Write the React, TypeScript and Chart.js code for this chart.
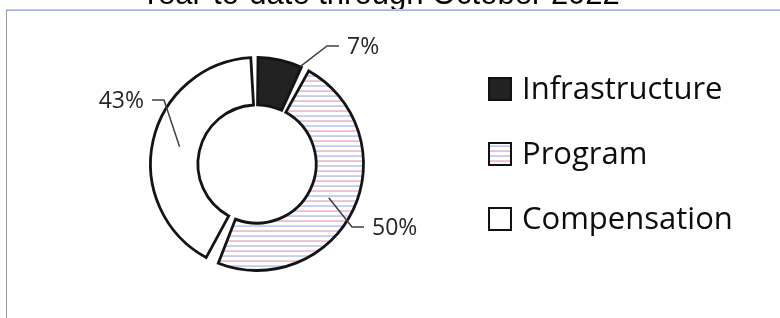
import React, { useEffect, useRef } from 'react';
import { Chart, registerables } from 'chart.js';

Chart.register(...registerables);

const TITLE = 'Year-to-date through October 2022';
const CATEGORIES = ['Infrastructure', 'Program', 'Compensation'];
const SHARES = [7, 50, 43];
const PERCENT_LABELS = ['7%', '50%', '43%'];

function makeHatch(): CanvasPattern | string {
  const c = document.createElement('canvas');
  c.width = 4;
  c.height = 5;
  const g = c.getContext('2d');
  if (!g) return '#e0e4f4';
  g.fillStyle = '#ffffff';
  g.fillRect(0, 0, 4, 5);
  g.fillStyle = '#efcad6';
  g.fillRect(0, 0, 4, 1);
  g.fillStyle = '#c3cdf1';
  g.fillRect(0, 1, 4, 1);
  const p = g.createPattern(c, 'repeat');
  return p || '#e0e4f4';
}

const decorPlugin = {
  id: 'decor',
  beforeDraw(chart: any) {
    const ctx = chart.ctx as CanvasRenderingContext2D;
    ctx.save();
    ctx.fillStyle = '#ffffff';
    ctx.fillRect(0, 0, chart.width, chart.height);
    // title (cropped at top)
    ctx.fillStyle = '#000000';
    ctx.font = '31px "Liberation Sans", Arial, sans-serif';
    ctx.textAlign = 'center';
    ctx.textBaseline = 'alphabetic';
    ctx.fillText(TITLE, 380, 4);
    // frame
    ctx.lineWidth = 1;
    ctx.strokeStyle = '#f0bcc4';
    ctx.beginPath();
    ctx.moveTo(6, 9.5);
    ctx.lineTo(chart.width, 9.5);
    ctx.stroke();
    ctx.strokeStyle = '#9fb2e2';
    ctx.beginPath();
    ctx.moveTo(6, 10.5);
    ctx.lineTo(chart.width, 10.5);
    ctx.stroke();
    ctx.strokeStyle = '#9a9a9a';
    ctx.beginPath();
    ctx.moveTo(6.5, 10);
    ctx.lineTo(6.5, chart.height);
    ctx.stroke();
    ctx.restore();
  },
  afterDraw(chart: any, _args: any, opts: any) {
    const ctx = chart.ctx as CanvasRenderingContext2D;
    const meta = chart.getDatasetMeta(0);
    const ds = chart.data.datasets[0];
    ctx.save();
    // leader lines + percentage labels
    meta.data.forEach((arc: any, i: number) => {
      const p = arc.getProps(['x', 'y', 'startAngle', 'endAngle', 'innerRadius', 'outerRadius'], true);
      const mid = (p.startAngle + p.endAngle) / 2;
      const r = (p.innerRadius + p.outerRadius) / 2;
      let ax = p.x + Math.cos(mid) * r;
      let ay = p.y + Math.sin(mid) * r;
      const [ex, ey] = opts.elbows[i];
      const bx = p.x + ex;
      const by = p.y + ey;
      if (opts.fromEdge[i]) {
        // start where the line leaves the ring
        const target = p.outerRadius + opts.edgePad;
        for (let t = 0; t <= 1; t += 0.01) {
          const qx = ax + (bx - ax) * t;
          const qy = ay + (by - ay) * t;
          if (Math.hypot(qx - p.x, qy - p.y) >= target) {
            ax = qx;
            ay = qy;
            break;
          }
        }
      }
      const dir = ex >= 0 ? 1 : -1;
      ctx.strokeStyle = '#404040';
      ctx.lineWidth = 1.5;
      ctx.beginPath();
      ctx.moveTo(ax, ay);
      ctx.lineTo(bx, by);
      ctx.lineTo(bx + dir * 12, by);
      ctx.stroke();
      ctx.fillStyle = '#262626';
      ctx.font = '23px "Open Sans", sans-serif';
      ctx.textBaseline = 'middle';
      ctx.textAlign = dir > 0 ? 'left' : 'right';
      ctx.fillText(PERCENT_LABELS[i], bx + dir * 20, by + 1);
    });
    // legend
    const lx = opts.legendX;
    CATEGORIES.forEach((name, i) => {
      const cy = opts.legendY + i * opts.legendGap;
      ctx.fillStyle = ds.backgroundColor[i];
      ctx.fillRect(lx, cy - 11, 22, 22);
      ctx.strokeStyle = '#111111';
      ctx.lineWidth = 2;
      ctx.strokeRect(lx, cy - 11, 22, 22);
      ctx.fillStyle = '#0d0d0d';
      ctx.font = '31px "Open Sans", sans-serif';
      ctx.textAlign = 'left';
      ctx.textBaseline = 'middle';
      ctx.fillText(name, lx + 33, cy + 1);
    });
    ctx.restore();
  },
};

export default function App() {
  const ref = useRef<HTMLCanvasElement | null>(null);
  useEffect(() => {
    if (!ref.current) return;
    const hatch = makeHatch();
    const chart = new Chart(ref.current, {
      type: 'doughnut',
      data: {
        labels: CATEGORIES,
        datasets: [
          {
            data: SHARES,
            backgroundColor: ['#222222', hatch as any, '#ffffff'],
            borderColor: '#141414',
            borderWidth: 2.8,
            borderJoinStyle: 'miter',
          } as any,
        ],
      },
      options: {
        responsive: false,
        maintainAspectRatio: false,
        animation: false,
        cutout: '54%',
        radius: 103,
        spacing: 7,
        rotation: 0,
        layout: { padding: { left: 140, right: 406, top: 55, bottom: 45 } },
        plugins: {
          legend: { display: false },
          title: { display: false },
          tooltip: { enabled: false },
          decor: {
            elbows: [
              [70, -118],
              [95, 63],
              [-93, -64],
            ],
            fromEdge: [true, false, false],
            edgePad: 3,
            legendX: 489,
            legendY: 89,
            legendGap: 65,
          },
        } as any,
      } as any,
      plugins: [decorPlugin],
    });
    return () => chart.destroy();
  }, []);
  return (
    <div style={{ position: 'fixed', left: 0, top: 0, width: 780, height: 318, background: '#fff' }}>
      <canvas ref={ref} width={780} height={318} style={{ display: 'block', width: 780, height: 318 }} />
    </div>
  );
}
